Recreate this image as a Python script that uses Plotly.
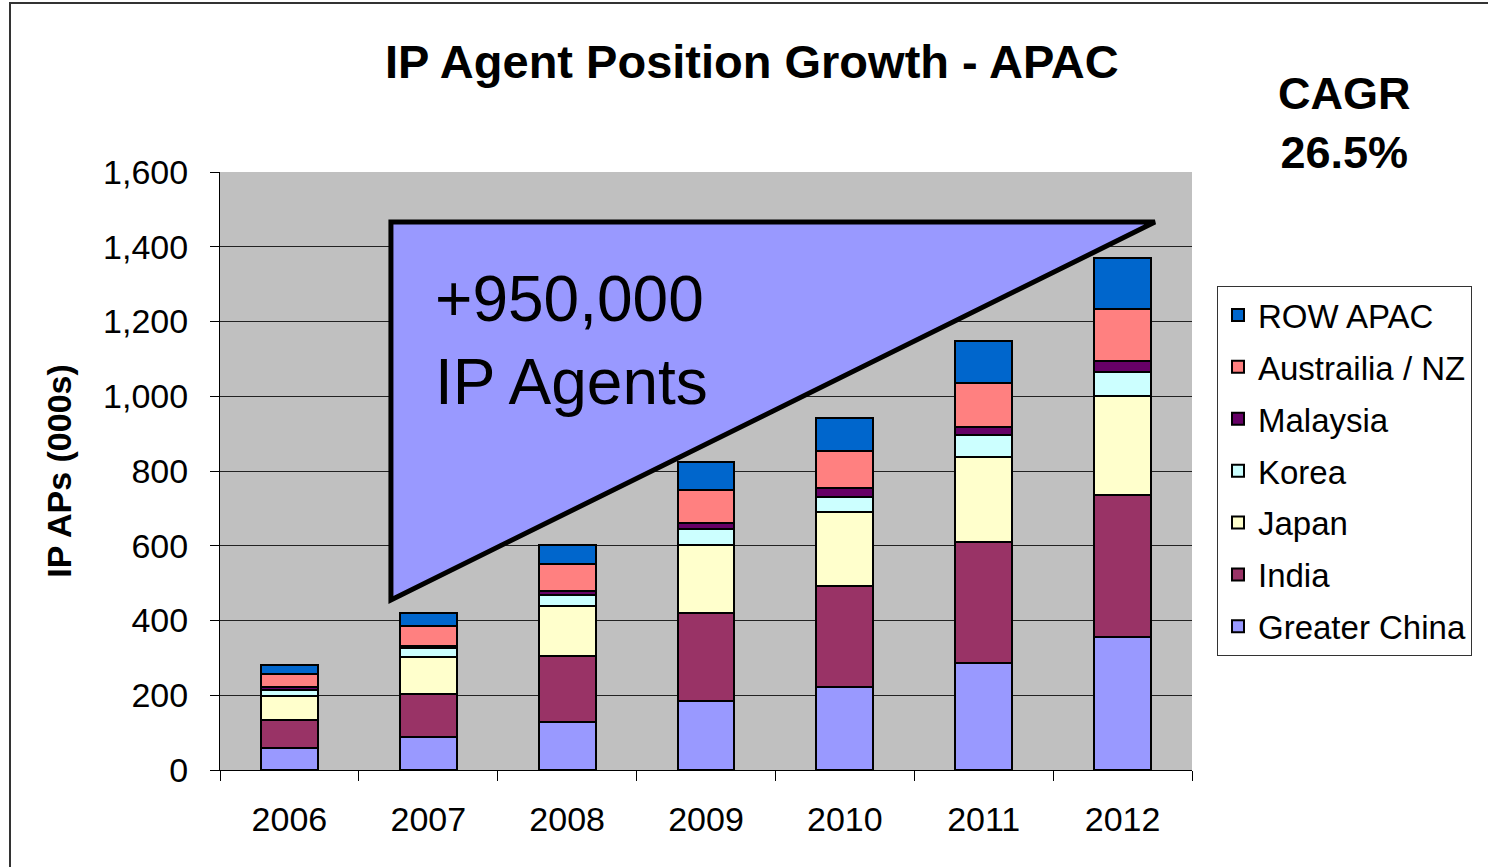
import plotly.graph_objects as go

years = ["2006", "2007", "2008", "2009", "2010", "2011", "2012"]
series_names = ["Greater China", "India", "Japan", "Korea", "Malaysia", "Austrailia / NZ", "ROW APAC"]
greater_china = [58, 87, 128, 185, 221, 287, 357]
india = [76, 117, 176, 236, 271, 322, 380]
japan = [65, 99, 135, 182, 198, 228, 264]
korea = [15, 23, 28, 41, 40, 58, 65]
malaysia = [7, 7, 12, 16, 25, 23, 29]
aus_nz = [36, 52, 71, 89, 99, 118, 139]
row_apac = [23, 36, 53, 75, 89, 111, 136]
colors = ["#9999FF", "#993366", "#FFFFCC", "#CCFFFF", "#660066", "#FF8080", "#0066CC"]
y_ticks = [0, 200, 400, 600, 800, 1000, 1200, 1400, 1600]

FONT = "Liberation Sans, Arial, sans-serif"

# body margin removed via post_script; plot area lands at page x 220-1192, y 172-770
L, T, PW, PH = 220, 172, 972, 598

fig = go.Figure()
n = len(series_names)
for i, (name, vals, col) in enumerate(zip(series_names,
                                          [greater_china, india, japan, korea, malaysia, aus_nz, row_apac],
                                          colors)):
    fig.add_trace(go.Bar(
        x=years, y=vals, name=name, legendgroup=name,
        legendrank=1000 - i,
        marker=dict(color=col, line=dict(color="black", width=2)),
        width=0.41,
    ))

fig.update_layout(
    barmode="stack",
    width=1488, height=867,
    margin=dict(l=L, r=1488 - L - PW, t=T, b=867 - T - PH),
    paper_bgcolor="white",
    plot_bgcolor="#C0C0C0",
    font=dict(family=FONT, color="black", size=20),
    showlegend=True,
    legend=dict(
        traceorder="grouped",
        x=(1217 - 220) / PW, y=(770 - 286) / PH, xanchor="left", yanchor="top",
        bgcolor="white", bordercolor="#333333", borderwidth=1,
        font=dict(family=FONT, size=33, color="black"),
        tracegroupgap=6,
        itemwidth=30,
    ),
    xaxis=dict(
        type="category",
        range=[-0.5, 6.5],
        showline=True, linecolor="black", linewidth=1,
        ticks="outside", tickson="boundaries", ticklen=10, tickcolor="black",
        tickfont=dict(size=34, family=FONT),
        ticklabelstandoff=19,
        showgrid=False,
    ),
    yaxis=dict(
        range=[0, 1600],
        tickvals=y_ticks,
        tickformat=",",
        showline=True, linecolor="black", linewidth=1,
        ticks="outside", ticklen=9, tickcolor="black",
        tickfont=dict(size=34, family=FONT),
        ticklabelstandoff=15,
        showgrid=True, gridcolor="#222222", gridwidth=1,
        title=dict(text="<b>IP APs (000s)</b>", font=dict(size=34, family=FONT), standoff=21),
        zeroline=False,
    ),
)

# outer border
fig.add_shape(type="rect", xref="paper", yref="paper",
              x0=(10 - 220) / PW, x1=(1492 - 220) / PW,
              y0=(770 - 880) / PH, y1=(770 - 3) / PH,
              line=dict(color="#333333", width=2), fillcolor="rgba(0,0,0,0)", layer="below")

# triangle callout
fig.add_shape(type="path", xref="x", yref="y",
              path="M 0.731 1466 L 0.731 455 L 6.233 1466 Z",
              fillcolor="#9999FF", line=dict(color="black", width=5), layer="above")

fig.add_annotation(text="+950,000<br>IP Agents", xref="paper", yref="paper",
                   x=(433 - 220) / PW, y=(770 - 340) / PH, xanchor="left", yanchor="middle",
                   align="left", showarrow=False,
                   font=dict(size=64, family=FONT, color="black"))

fig.add_annotation(text="<b>IP Agent Position Growth - APAC</b>", xref="paper", yref="paper",
                   x=(752 - 220) / PW, y=(770 - 62) / PH, xanchor="center", yanchor="middle",
                   showarrow=False, font=dict(size=47, family=FONT, color="black"))

fig.add_annotation(text="<b>CAGR<br>26.5%</b>", xref="paper", yref="paper",
                   x=(1344 - 220) / PW, y=(770 - 123) / PH, xanchor="center", yanchor="middle",
                   showarrow=False, font=dict(size=45, family=FONT, color="black"))

fig.write_html("out.html",
               config={"displayModeBar": False},
               post_script="document.body.style.margin='0px';document.body.style.overflow='hidden';")
